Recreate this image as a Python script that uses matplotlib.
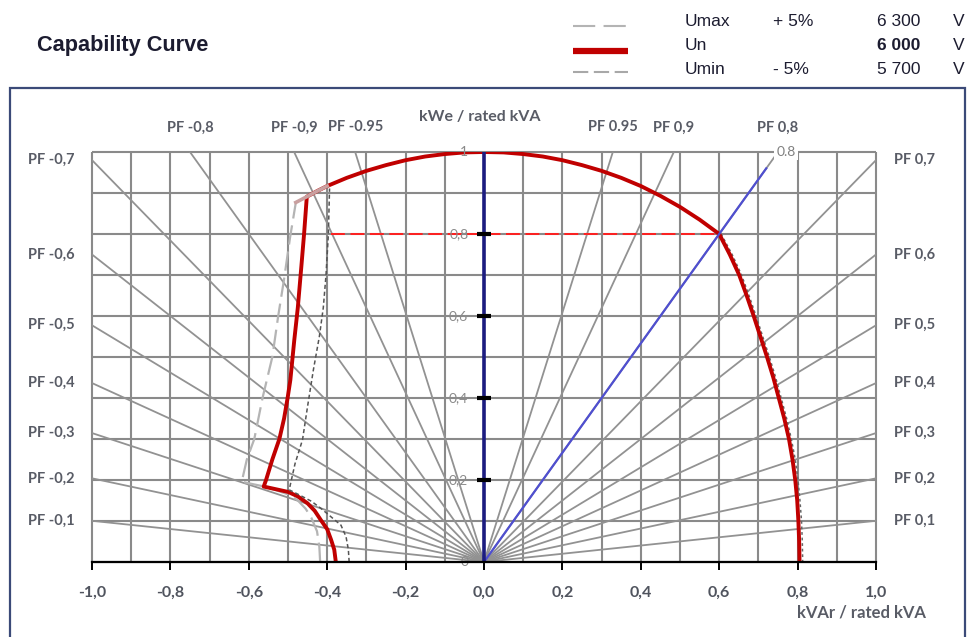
import numpy as np
import matplotlib
matplotlib.use("Agg")
import matplotlib.pyplot as plt
from matplotlib.lines import Line2D
from matplotlib.patches import Rectangle

plt.rcParams['lines.scale_dashes'] = False

# power factor rays (same set on both sides of the origin)
pf_values = [0.1, 0.2, 0.3, 0.4, 0.5, 0.6, 0.7, 0.8, 0.9, 0.95]
side_pf = [0.1, 0.2, 0.3, 0.4, 0.5, 0.6, 0.7]
side_text = ["0,1", "0,2", "0,3", "0,4", "0,5", "0,6", "0,7"]
top_pf = [0.8, 0.9, 0.95]
top_text = ["0,8", "0,9", "0.95"]

# rated operating point vector (PF 0.8)
vec_pf = 0.8
vec_len = 1.2

xtick_vals = [-1.0, -0.8, -0.6, -0.4, -0.2, 0.0, 0.2, 0.4, 0.6, 0.8, 1.0]
xtick_text = ["-1,0", "-0,8", "-0,6", "-0,4", "-0,2", "0,0", "0,2", "0,4", "0,6", "0,8", "1,0"]
ytick_vals = [0.0, 0.2, 0.4, 0.6, 0.8, 1.0]
ytick_text = ["0", "0,2", "0,4", "0,6", "0,8", "1"]

# Un capability curve (kVAr, kWe)
un_q = [-0.378, -0.382, -0.39, -0.40, -0.416, -0.432, -0.45, -0.475, -0.50,
        -0.562, -0.556, -0.54, -0.522, -0.51, -0.501, -0.494, -0.484, -0.475, -0.466, -0.459,
        -0.452, -0.425, -0.40, -0.35, -0.30, -0.25, -0.20, -0.15, -0.10, -0.05, 0.0,
        0.05, 0.10, 0.15, 0.20, 0.25, 0.30, 0.35, 0.40, 0.45, 0.50, 0.55, 0.60,
        0.627, 0.651, 0.670, 0.688, 0.705, 0.722, 0.738, 0.752, 0.766, 0.778, 0.787,
        0.794, 0.799, 0.802, 0.804, 0.805]
un_p = [0.0, 0.03, 0.054, 0.08, 0.102, 0.125, 0.143, 0.16, 0.171,
        0.184, 0.20, 0.25, 0.30, 0.35, 0.40, 0.444, 0.541, 0.62, 0.72, 0.80,
        0.891, 0.905, 0.917, 0.937, 0.954, 0.968, 0.980, 0.989, 0.995, 0.999, 1.0,
        0.999, 0.995, 0.989, 0.980, 0.968, 0.954, 0.937, 0.917, 0.893, 0.866, 0.835, 0.80,
        0.75, 0.70, 0.65, 0.60, 0.55, 0.50, 0.45, 0.40, 0.35, 0.30, 0.25,
        0.20, 0.15, 0.10, 0.05, 0.0]

# Umax (+5%) curve, left branch
umax_q = [-0.418, -0.42, -0.426, -0.44, -0.455, -0.476, -0.50, -0.53, -0.565, -0.60,
          -0.618, -0.605, -0.586, -0.565, -0.54, -0.525, -0.51, -0.495, -0.48, -0.452, -0.425, -0.40]
umax_p = [0.0, 0.037, 0.075, 0.107, 0.13, 0.151, 0.165, 0.175, 0.185, 0.192,
          0.196, 0.25, 0.30, 0.40, 0.50, 0.60, 0.69, 0.79, 0.877, 0.891, 0.905, 0.917]

# Umin (-5%) curve, left and right branches
umin_q = [-0.344, -0.346, -0.352, -0.365, -0.39, -0.415, -0.44, -0.47, -0.497,
          -0.482, -0.463, -0.45, -0.435, -0.42, -0.41, -0.403, -0.397, -0.394]
umin_p = [0.0, 0.03, 0.062, 0.09, 0.11, 0.13, 0.148, 0.163, 0.176,
          0.24, 0.298, 0.38, 0.47, 0.55, 0.62, 0.70, 0.80, 0.911]
umin_rq = [0.605, 0.633, 0.657, 0.676, 0.694, 0.711, 0.728, 0.744, 0.758, 0.772, 0.784,
           0.794, 0.801, 0.806, 0.81, 0.812, 0.813]
umin_rp = [0.8, 0.75, 0.70, 0.65, 0.60, 0.55, 0.50, 0.45, 0.40, 0.35, 0.30,
           0.25, 0.20, 0.15, 0.10, 0.05, 0.0]

# rated kWe level line
rated_p = 0.8
rated_q = [-0.39, 0.6]

W, H = 967, 637
fig = plt.figure(figsize=(W / 100, H / 100), dpi=100)
ax = fig.add_axes([92 / W, 75 / H, 784 / W, 410 / H])
ax.set_xlim(-1, 1)
ax.set_ylim(0, 1)

lab = dict(family=["Lato", "DejaVu Sans"], fontweight="bold", color="#595c66")

# grid
grid_vals = np.round(np.arange(-1.0, 1.001, 0.1), 1)
ax.vlines(grid_vals, 0, 1, colors="#8a8a8a", lw=1.5, zorder=1, clip_on=False)
ax.hlines(grid_vals[grid_vals >= 0], -1, 1, colors="#8a8a8a", lw=1.5, zorder=1, clip_on=False)

# PF rays
for pf in pf_values:
    slope = pf / np.sqrt(1 - pf ** 2)
    ax.axline((0, 0), slope=slope, color="#929292", lw=1.3, zorder=1.5)
    ax.axline((0, 0), slope=-slope, color="#929292", lw=1.3, zorder=1.5)

# PF labels on the sides and on top
for pf, t in zip(side_pf, side_text):
    yy = pf / np.sqrt(1 - pf ** 2)
    ax.text(-1.045, yy, "PF -" + t, ha="right", va="center", fontsize=10.5, **lab)
    ax.text(1.045, yy, "PF " + t, ha="left", va="center", fontsize=10.5, **lab)
for pf, t in zip(top_pf, top_text):
    xx = np.sqrt(1 - pf ** 2) / pf
    ax.text(-xx, 1.06, "PF -" + t, ha="center", va="center", fontsize=10.5, **lab)
    ax.text(xx, 1.06, "PF " + t, ha="center", va="center", fontsize=10.5, **lab)

# voltage curves
ax.plot(umax_q, umax_p, color="#b4b4b4", lw=1.6, dashes=(14, 5), zorder=2)
ax.plot(un_q, un_p, color="#c00000", lw=2.8, zorder=3, solid_joinstyle="round")
ax.plot(umax_q[-4:], umax_p[-4:], color="#c9a0a0", lw=2.6, zorder=3.2)
ax.plot(umin_q, umin_p, color="#555555", lw=1.1, dashes=(3, 2), zorder=4)
ax.plot(umin_rq, umin_rp, color="#666666", lw=1.1, dashes=(2, 2), zorder=2.5)
ax.hlines(rated_p, rated_q[0], rated_q[1], colors="#ff2020", lw=1.4,
          linestyles=(0, (10, 4)), zorder=3)

# kWe axis and rated vector
ax.plot([0, 0], [0, 1], color="#1c1c80", lw=2.6, zorder=5)
ax.plot([0, vec_len * np.sqrt(1 - vec_pf ** 2)], [0, vec_len * vec_pf],
        color="#4f4fd0", lw=1.6, zorder=4.5)
for yv, t in zip(ytick_vals, ytick_text):
    if 0 < yv < 1:
        ax.plot([-0.019, 0.018], [yv, yv], color="black", lw=3, zorder=6,
                solid_capstyle="butt")
    ax.text(-0.04, yv, t, ha="right", va="center", fontsize=10,
            family=["Lato", "DejaVu Sans"], color="#8a8a8a", zorder=6)
ax.text(0.77, 1.0, "0.8", ha="center", va="center", fontsize=10,
        family=["Lato", "DejaVu Sans"], color="#808080", zorder=7,
        bbox=dict(facecolor="white", edgecolor="none", pad=1.5), clip_on=False)

ax.text(-0.012, 1.085, "kWe / rated kVA", ha="center", va="center", fontsize=11.5, **lab)
ax.text(1.128, -0.122, "kVAr / rated kVA", ha="right", va="center", fontsize=12, **lab)

# x axis
for s in ["left", "right", "top"]:
    ax.spines[s].set_visible(False)
ax.spines["bottom"].set_color("black")
ax.spines["bottom"].set_linewidth(1.6)
ax.spines["bottom"].set_zorder(6)
ax.set_xticks(xtick_vals)
ax.set_xticklabels(xtick_text, fontsize=11.5, fontweight="bold", color="#50545e",
                   family=["Lato", "DejaVu Sans"])
ax.tick_params(axis="x", direction="out", length=6, width=1.4, color="black", pad=11)
ax.set_yticks([])
ax.set_facecolor("white")

# chart frame
fig.patches.append(Rectangle((10 / W, -0.02), 955 / W, (H - 88) / H + 0.02,
                             transform=fig.transFigure, fill=False,
                             edgecolor="#3b4a78", lw=1.6))

# title and legend block
fig.text(37 / W, 1 - 46 / H, "Capability Curve", fontsize=15.7, fontweight="bold",
         color="#1c1c30", family=["Liberation Sans", "DejaVu Sans"], va="center")

leg_rows = [22, 46, 70]
leg_line_y = [26, 51, 72]
leg_name = ["Umax", "Un", "Umin"]
leg_pct = ["+ 5%", "", "- 5%"]
leg_volt = ["6 300", "6 000", "5 700"]
fig.add_artist(Line2D([573 / W, 628 / W], [1 - leg_line_y[0] / H] * 2, color="#b4b4b4",
                      lw=1.5, dashes=(16, 6)))
fig.add_artist(Line2D([573 / W, 628 / W], [1 - leg_line_y[1] / H] * 2, color="#c00000",
                      lw=4.5, solid_capstyle="butt"))
fig.add_artist(Line2D([573 / W, 628 / W], [1 - leg_line_y[2] / H] * 2, color="#a8a8a8",
                      lw=1.5, dashes=(11, 4)))
legf = dict(family=["Liberation Sans", "DejaVu Sans"], fontsize=12.5, color="#1c1c30",
            va="center")
for i in range(3):
    yy = 1 - leg_rows[i] / H
    fig.text(685 / W, yy, leg_name[i], **legf)
    fig.text(773 / W, yy, leg_pct[i], **legf)
    fig.text(877 / W, yy, leg_volt[i], fontweight="bold" if i == 1 else "normal", **legf)
    fig.text(953 / W, yy, "V", **legf)

fig.savefig("out.png", dpi=100)
